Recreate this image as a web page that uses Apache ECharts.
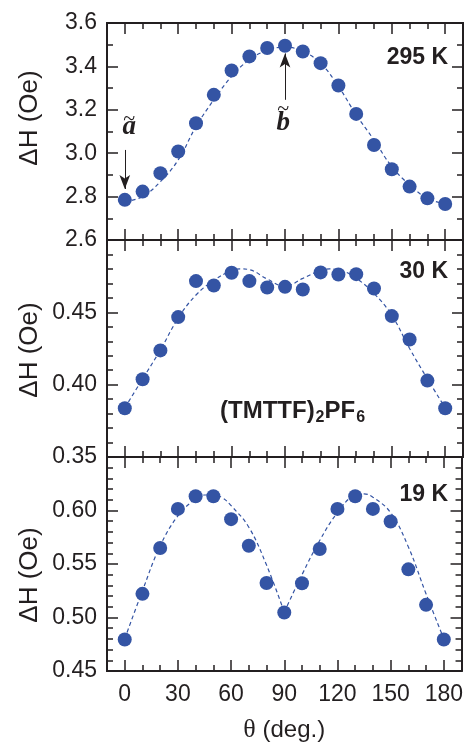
<!DOCTYPE html>
<html><head><meta charset="utf-8">
<script src="https://cdn.jsdelivr.net/npm/echarts@6/dist/echarts.min.js"></script>
<style>html,body{margin:0;padding:0;background:#fff}#c{width:466px;height:744px}</style>
</head><body><div id="c"></div>
<script>
// ---- data ----
const theta = [0,10,20,30,40,50,60,70,80,90,100,110,120,130,140,150,160,170,180];
const dH295K = [2.785,2.823,2.908,3.008,3.138,3.269,3.381,3.446,3.485,3.495,3.469,3.415,3.312,3.181,3.038,2.926,2.846,2.792,2.766];
const dH30K = [0.3837,0.4037,0.4237,0.4467,0.4716,0.4686,0.4774,0.4716,0.4672,0.4676,0.4658,0.4776,0.4762,0.4764,0.4665,0.4474,0.4312,0.4028,0.3837];
const dH19K = [0.4795,0.5221,0.5649,0.6015,0.6133,0.6133,0.5919,0.5670,0.5323,0.5047,0.5320,0.5640,0.6015,0.6133,0.6015,0.5897,0.5450,0.5118,0.4795];

const fitTheta295K = [0,10,20,30,40,50,60,70,80,90,100,110,120,130,140,150,160,170,180];
const fit295K = [2.777,2.800,2.869,2.969,3.123,3.246,3.354,3.431,3.474,3.489,3.469,3.415,3.308,3.177,3.061,2.938,2.854,2.792,2.766];
const fitTheta30K = [0,10,20,30,40,50,60,65,70,80,90,100,110,115,120,130,140,150,160,170,180];
const fit30K = [0.384,0.404,0.424,0.446,0.462,0.472,0.479,0.480,0.4795,0.473,0.468,0.4735,0.479,0.480,0.4795,0.4735,0.463,0.448,0.425,0.404,0.384];
const fitTheta19K = [0,10,20,30,40,45,50,55,60,70,80,90,100,110,120,130,135,140,150,160,170,180];
const fit19K = [0.480,0.525,0.567,0.595,0.611,0.6145,0.6145,0.612,0.6046,0.5844,0.549,0.505,0.540,0.572,0.598,0.6145,0.6155,0.6124,0.598,0.566,0.522,0.480];

const xTickLabels = [0,30,60,90,120,150,180];
const tempLabels = ['295 K','30 K','19 K'];
const compoundParts = [['(TMTTF)', false], ['2', true], ['PF', false], ['6', true]];
// annotation anchors in data units (theta, dH)
const arrowA = [[0,3.015],[0,2.835]];
const arrowB = [[90,3.246],[90,3.46]];
const letterA = [2.5,3.123];
const letterB = [89,3.145];

// ---- styling ----
const INK = '#231f20';
const BLUE = '#3454a4';
const FONT = 'Liberation Sans';
const grids = [
  {left:107, top:23, width:356, height:217},
  {left:107, top:240, width:356, height:217},
  {left:107, top:457, width:356, height:216}
];
const yCfg = [
  {min:2.6, max:3.6, interval:0.2, minor:2, dec:1, showMax:true},
  {min:0.35, max:0.50, interval:0.05, minor:5, dec:2, showMax:false},
  {min:0.45, max:0.65, interval:0.05, minor:5, dec:2, showMax:false}
];

const xAxes = [], yAxes = [];
function xAx(g, pos, major, showLabel) {
  const a = {
    type:'value', gridIndex:g, position:pos, min:-10, max:190,
    axisLine:{show:true, onZero:false, lineStyle:{color:INK, width:2}},
    axisTick: major
      ? {show:true, inside:true, length:11, customValues:xTickLabels, lineStyle:{color:INK, width:1.5}}
      : {show:true, inside:true, length:6, lineStyle:{color:INK, width:1.5}},
    axisLabel: showLabel
      ? {show:true, customValues:xTickLabels, margin:12, fontFamily:FONT, fontSize:23, color:INK}
      : {show:false},
    splitLine:{show:false}
  };
  if (!major) a.interval = 10;
  if (showLabel) {
    a.name = '{g|θ} (deg.)';
    a.nameLocation = 'middle';
    a.nameGap = 46;
    a.nameTextStyle = {fontFamily:FONT, fontSize:24, color:INK,
      rich:{g:{fontFamily:'Liberation Serif', fontSize:26, color:INK}}};
  }
  return a;
}
function yAx(g, pos, showLabel) {
  const c = yCfg[g];
  return {
    type:'value', gridIndex:g, position:pos, min:c.min, max:c.max, interval:c.interval,
    axisLine:{show:true, onZero:false, lineStyle:{color:INK, width:2}},
    axisTick:{show:true, inside:true, length:11, lineStyle:{color:INK, width:1.5}},
    minorTick:{show:true, splitNumber:c.minor, length:6, lineStyle:{color:INK, width:1.5}},
    axisLabel: showLabel
      ? {show:true, margin:10, fontFamily:FONT, fontSize:23, color:INK,
         formatter:v=>Number(v).toFixed(c.dec), showMaxLabel:c.showMax, showMinLabel:true}
      : {show:false},
    splitLine:{show:false}, minorSplitLine:{show:false}
  };
}
for (let g=0; g<3; g++) {
  xAxes.push(xAx(g,'bottom',true,g===2));
  xAxes.push(xAx(g,'bottom',false,false));
  xAxes.push(xAx(g,'top',true,false));
  xAxes.push(xAx(g,'top',false,false));
  yAxes.push(yAx(g,'left',true));
  yAxes.push(yAx(g,'right',false));
}

const pts = (xs, ys) => xs.map((t,i)=>[t, ys[i]]);
const lineSeries = (g, data) => ({
  type:'line', xAxisIndex:4*g, yAxisIndex:2*g, data, showSymbol:false, smooth:0.4,
  lineStyle:{type:[4,3], width:1.2, color:BLUE}, z:2, silent:true
});
const scatterSeries = (g, data) => ({
  type:'scatter', xAxisIndex:4*g, yAxisIndex:2*g, data, symbolSize:14,
  itemStyle:{color:BLUE, opacity:1}, z:3, silent:true
});

const fit19 = pts(fitTheta19K, fit19K);
const serA = scatterSeries(0, pts(theta, dH295K));
serA.markLine = {
  silent:true, symbol:['none','arrow'], symbolSize:[8,14],
  label:{show:false},
  lineStyle:{type:'solid', color:INK, width:1},
  itemStyle:{color:INK},
  emphasis:{disabled:true},
  data:[
    [{coord:arrowA[0]},{coord:arrowA[1]}],
    [{coord:arrowB[0]},{coord:arrowB[1]}]
  ]
};
const letterRich = {
  t:{fontFamily:'Liberation Serif', fontSize:22, lineHeight:2, color:INK},
  la:{fontFamily:'Liberation Serif', fontStyle:'italic', fontWeight:'bold', fontSize:27, lineHeight:14, color:INK},
  lb:{fontFamily:'Liberation Serif', fontStyle:'italic', fontWeight:'bold', fontSize:27, lineHeight:26, color:INK}
};
serA.markPoint = {
  silent:true, symbol:'circle', symbolSize:1, itemStyle:{color:'rgba(0,0,0,0)'},
  label:{show:true, position:'inside', rich:letterRich},
  data:[
    {coord:letterA, label:{formatter:'{t|~}\n{la|a}'}},
    {coord:letterB, label:{formatter:'{t|~}\n{lb|b}'}}
  ]
};

const series = [
  lineSeries(0, pts(fitTheta295K, fit295K)),
  serA,
  lineSeries(1, pts(fitTheta30K, fit30K)),
  scatterSeries(1, pts(theta, dH30K)),
  lineSeries(2, fit19.filter(p=>p[0]<=90)),
  lineSeries(2, fit19.filter(p=>p[0]>=90)),
  scatterSeries(2, pts(theta, dH19K))
];

// compound label: main text + lowered subscripts, laid out with measured widths
const measure = document.createElement('canvas').getContext('2d');
const compound = [];
let cx = 220;
compoundParts.forEach(([txt, sub]) => {
  const size = sub ? 16 : 24;
  measure.font = 'bold ' + size + 'px "' + FONT + '"';
  compound.push({type:'text', x:cx, y: sub ? 417.5 : 411.5,
    style:{text:txt, fontFamily:FONT, fontWeight:'bold', fontSize:size, fill:INK,
           align:'left', verticalAlign:'middle'}});
  cx += measure.measureText(txt).width + (sub ? 0 : 1);
});

const tStyle = {fontFamily:FONT, fontWeight:'bold', fontSize:23, fill:INK, align:'right', verticalAlign:'middle'};
const yName = 'ΔH (Oe)';
const yNameStyle = {text:yName, fontFamily:FONT, fontSize:26, fill:INK, align:'center', verticalAlign:'middle'};
const graphic = [
  {type:'text', x:448, y:58, style:Object.assign({text:tempLabels[0]}, tStyle)},
  {type:'text', x:448, y:272, style:Object.assign({text:tempLabels[1]}, tStyle)},
  {type:'text', x:448, y:495, style:Object.assign({text:tempLabels[2]}, tStyle)},
  {type:'text', x:30, y:118, rotation:Math.PI/2, style:Object.assign({}, yNameStyle)},
  {type:'text', x:30, y:350, rotation:Math.PI/2, style:Object.assign({}, yNameStyle)},
  {type:'text', x:30, y:575, rotation:Math.PI/2, style:Object.assign({}, yNameStyle)}
].concat(compound);

const chart = echarts.init(document.getElementById('c'), null, {renderer:'canvas'});
chart.setOption({
  animation:false,
  backgroundColor:'#ffffff',
  grid:grids,
  xAxis:xAxes,
  yAxis:yAxes,
  series,
  graphic
});
</script>
</body></html>
